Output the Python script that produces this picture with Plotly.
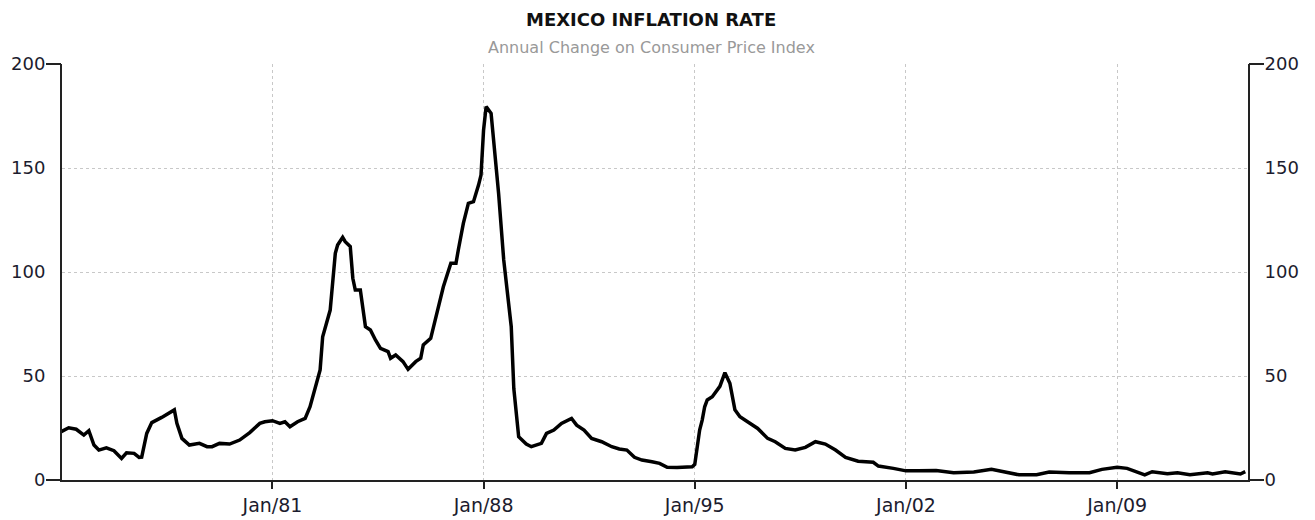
import plotly.graph_objects as go

# ---- data ----
dates = (
    ["1974-01", "1974-04", "1974-07", "1974-10", "1974-12"]
    + ["1975-02", "1975-04", "1975-07", "1975-10"]
    + ["1976-01", "1976-03", "1976-06", "1976-08", "1976-09", "1976-11"]
    + ["1977-01", "1977-05", "1977-09", "1977-10", "1977-11"]
    + ["1978-01", "1978-04", "1978-08", "1978-11"]
    + ["1979-01", "1979-04", "1979-08", "1979-12"]
    + ["1980-04", "1980-08", "1980-10"]
    + ["1981-01", "1981-04", "1981-06", "1981-08", "1981-11"]
    + ["1982-02", "1982-04", "1982-06", "1982-08", "1982-09", "1982-12"]
    + ["1983-02", "1983-03", "1983-05", "1983-06", "1983-08", "1983-09", "1983-10", "1983-12"]
    + ["1984-02", "1984-04", "1984-06", "1984-08", "1984-11", "1984-12"]
    + ["1985-02", "1985-05", "1985-07", "1985-10", "1985-12"]
    + ["1986-01", "1986-04", "1986-07", "1986-09", "1986-12"]
    + ["1987-02", "1987-03", "1987-05", "1987-07", "1987-09", "1987-11", "1987-12"]
    + ["1988-01", "1988-02", "1988-04", "1988-07", "1988-09", "1988-12"]
    + ["1989-01", "1989-02", "1989-03", "1989-06", "1989-08", "1989-12"]
    + ["1990-02", "1990-05", "1990-08", "1990-12"]
    + ["1991-02", "1991-05", "1991-08", "1991-12"]
    + ["1992-04", "1992-07", "1992-10"]
    + ["1993-01", "1993-04", "1993-08", "1993-11"]
    + ["1994-02", "1994-06", "1994-12"]
    + ["1995-01", "1995-03", "1995-04", "1995-05", "1995-06", "1995-08", "1995-10", "1995-11"]
    + ["1996-01", "1996-03", "1996-05", "1996-07", "1996-10"]
    + ["1997-02", "1997-06", "1997-09"]
    + ["1998-01", "1998-05", "1998-09"]
    + ["1999-01", "1999-05", "1999-09"]
    + ["2000-01", "2000-06", "2000-12"]
    + ["2001-02", "2001-08"]
    + ["2002-01", "2002-06"]
    + ["2003-01", "2003-08"]
    + ["2004-04", "2004-11"]
    + ["2005-05", "2005-10"]
    + ["2006-05", "2006-10"]
    + ["2007-06"]
    + ["2008-02", "2008-07"]
    + ["2009-01", "2009-05", "2009-09", "2009-12"]
    + ["2010-03", "2010-09"]
    + ["2011-01", "2011-06"]
    + ["2012-01", "2012-03", "2012-08", "2012-11"]
    + ["2013-02", "2013-04"]
)

inflation = (
    [23.2, 25.1, 24.4, 21.6, 23.7]
    + [16.8, 14.4, 15.5, 14.1]
    + [10.4, 13.1, 12.8, 10.9, 11.0, 22.4]
    + [27.6, 30.1, 32.8, 33.7, 27.2]
    + [20.0, 16.8, 17.6, 16.0]
    + [16.0, 17.6, 17.3, 19.2]
    + [22.8, 27.2, 28.0]
    + [28.5, 27.2, 28.0, 25.6, 28.0]
    + [29.6, 35.2, 44.0, 52.9, 68.9, 81.7]
    + [109.0, 113.0, 116.7, 114.6, 112.2, 97.0, 91.3, 91.3]
    + [73.7, 72.1, 67.3, 63.3, 61.7, 58.5]
    + [60.1, 56.9, 53.2, 56.9, 58.5]
    + [64.9, 68.1, 83.3, 92.9, 104.2]
    + [104.2, 110.6, 123.4, 133.0, 133.8, 141.8, 146.6]
    + [168.3, 179.5, 176.3, 137.8, 105.8, 73.7]
    + [44.0, 32.0, 20.8, 17.3, 16.0, 17.6]
    + [22.4, 24.0, 27.2, 29.6]
    + [26.4, 24.0, 20.0, 18.4]
    + [16.0, 14.9, 14.4]
    + [10.9, 9.6, 8.8, 8.0]
    + [6.1, 6.0, 6.4]
    + [7.5, 24.0, 28.8, 35.2, 38.5, 40.0, 43.3, 45.0]
    + [51.6, 46.5, 33.7, 30.4, 28.0]
    + [24.8, 20.0, 18.4]
    + [15.2, 14.4, 15.7]
    + [18.4, 17.3, 14.4]
    + [10.9, 9.0, 8.5]
    + [6.7, 5.6]
    + [4.4, 4.4]
    + [4.6, 3.5]
    + [3.8, 5.1]
    + [3.8, 2.5]
    + [2.5, 3.8]
    + [3.5]
    + [3.5, 5.1]
    + [6.1, 5.6, 3.8, 2.5]
    + [4.0, 3.0]
    + [3.5, 2.5]
    + [3.5, 2.9, 4.0, 3.5]
    + [2.9, 4.0]
)

x_tick_dates = ["1981-01-01", "1988-01-01", "1995-01-01", "2002-01-01", "2009-01-01"]
x_tick_labels = ["Jan/81", "Jan/88", "Jan/95", "Jan/02", "Jan/09"]
y_ticks = [0, 50, 100, 150, 200]
y_end_ticks = [0, 200]
x_range = ["1974-01-10", "2013-05-04"]
y_range = [0, 200]

title_text = "MEXICO INFLATION RATE"
subtitle_text = "Annual Change on Consumer Price Index"

FONT = "DejaVu Sans"
TICK_COLOR = "#1c1c2e"
TICK_SIZE = 18

fig = go.Figure()
fig.add_trace(go.Scatter(
    x=dates, y=inflation, mode="lines",
    line=dict(color="black", width=3.5),
    showlegend=False, hoverinfo="x+y",
))
# empty helper traces so the overlay axes are drawn
for ax in ["y2", "y3", "y4"]:
    fig.add_trace(go.Scatter(x=[], y=[], yaxis=ax, showlegend=False))

# the page body has an 8px margin, so the figure is sized/offset to fit
fig.update_layout(
    width=1307, height=512,
    margin=dict(l=54, r=67, t=56, b=40, autoexpand=False),
    paper_bgcolor="white", plot_bgcolor="white",
    font=dict(family=FONT, size=TICK_SIZE, color=TICK_COLOR),
    xaxis=dict(
        type="date", range=x_range, automargin=False,
        tickvals=x_tick_dates, ticktext=x_tick_labels,
        ticks="outside", ticklen=7, tickwidth=2, tickcolor="#222",
        showline=True, linecolor="#222", linewidth=2,
        showgrid=True, gridcolor="#c8c8c8", griddash="dot", gridwidth=1,
        zeroline=False, tickfont=dict(size=TICK_SIZE + 1, color=TICK_COLOR),
    ),
    yaxis=dict(
        range=y_range, tickvals=y_ticks, automargin=False,
        ticks="outside", ticklen=11, tickcolor="rgba(0,0,0,0)",
        showline=True, linecolor="#222", linewidth=2,
        showgrid=True, gridcolor="#c8c8c8", griddash="dot", gridwidth=1,
        zeroline=False, tickfont=dict(size=TICK_SIZE, color=TICK_COLOR),
    ),
    yaxis2=dict(
        range=y_range, tickvals=y_ticks, overlaying="y", side="right", automargin=False,
        ticks="outside", ticklen=11, tickcolor="rgba(0,0,0,0)",
        showline=True, linecolor="#222", linewidth=2,
        showgrid=False, zeroline=False, tickfont=dict(size=TICK_SIZE, color=TICK_COLOR),
    ),
    yaxis3=dict(
        range=y_range, tickvals=y_end_ticks, overlaying="y", side="left", automargin=False,
        ticks="outside", ticklen=15, tickwidth=2, tickcolor="#222",
        showticklabels=False, showgrid=False, zeroline=False, showline=False,
    ),
    yaxis4=dict(
        range=y_range, tickvals=y_end_ticks, overlaying="y", side="right", automargin=False,
        ticks="outside", ticklen=15, tickwidth=2, tickcolor="#222",
        showticklabels=False, showgrid=False, zeroline=False, showline=False,
    ),
    annotations=[
        dict(text="<b>" + title_text + "</b>", xref="paper", yref="paper",
             x=0.497, y=1 + (64 - 19) / 416, xanchor="center", yanchor="middle",
             showarrow=False, font=dict(family=FONT, size=18, color="#111")),
        dict(text=subtitle_text, xref="paper", yref="paper",
             x=0.497, y=1 + (64 - 47) / 416, xanchor="center", yanchor="middle",
             showarrow=False, font=dict(family=FONT, size=16, color="#999999")),
    ],
)

fig.write_html("out.html")
